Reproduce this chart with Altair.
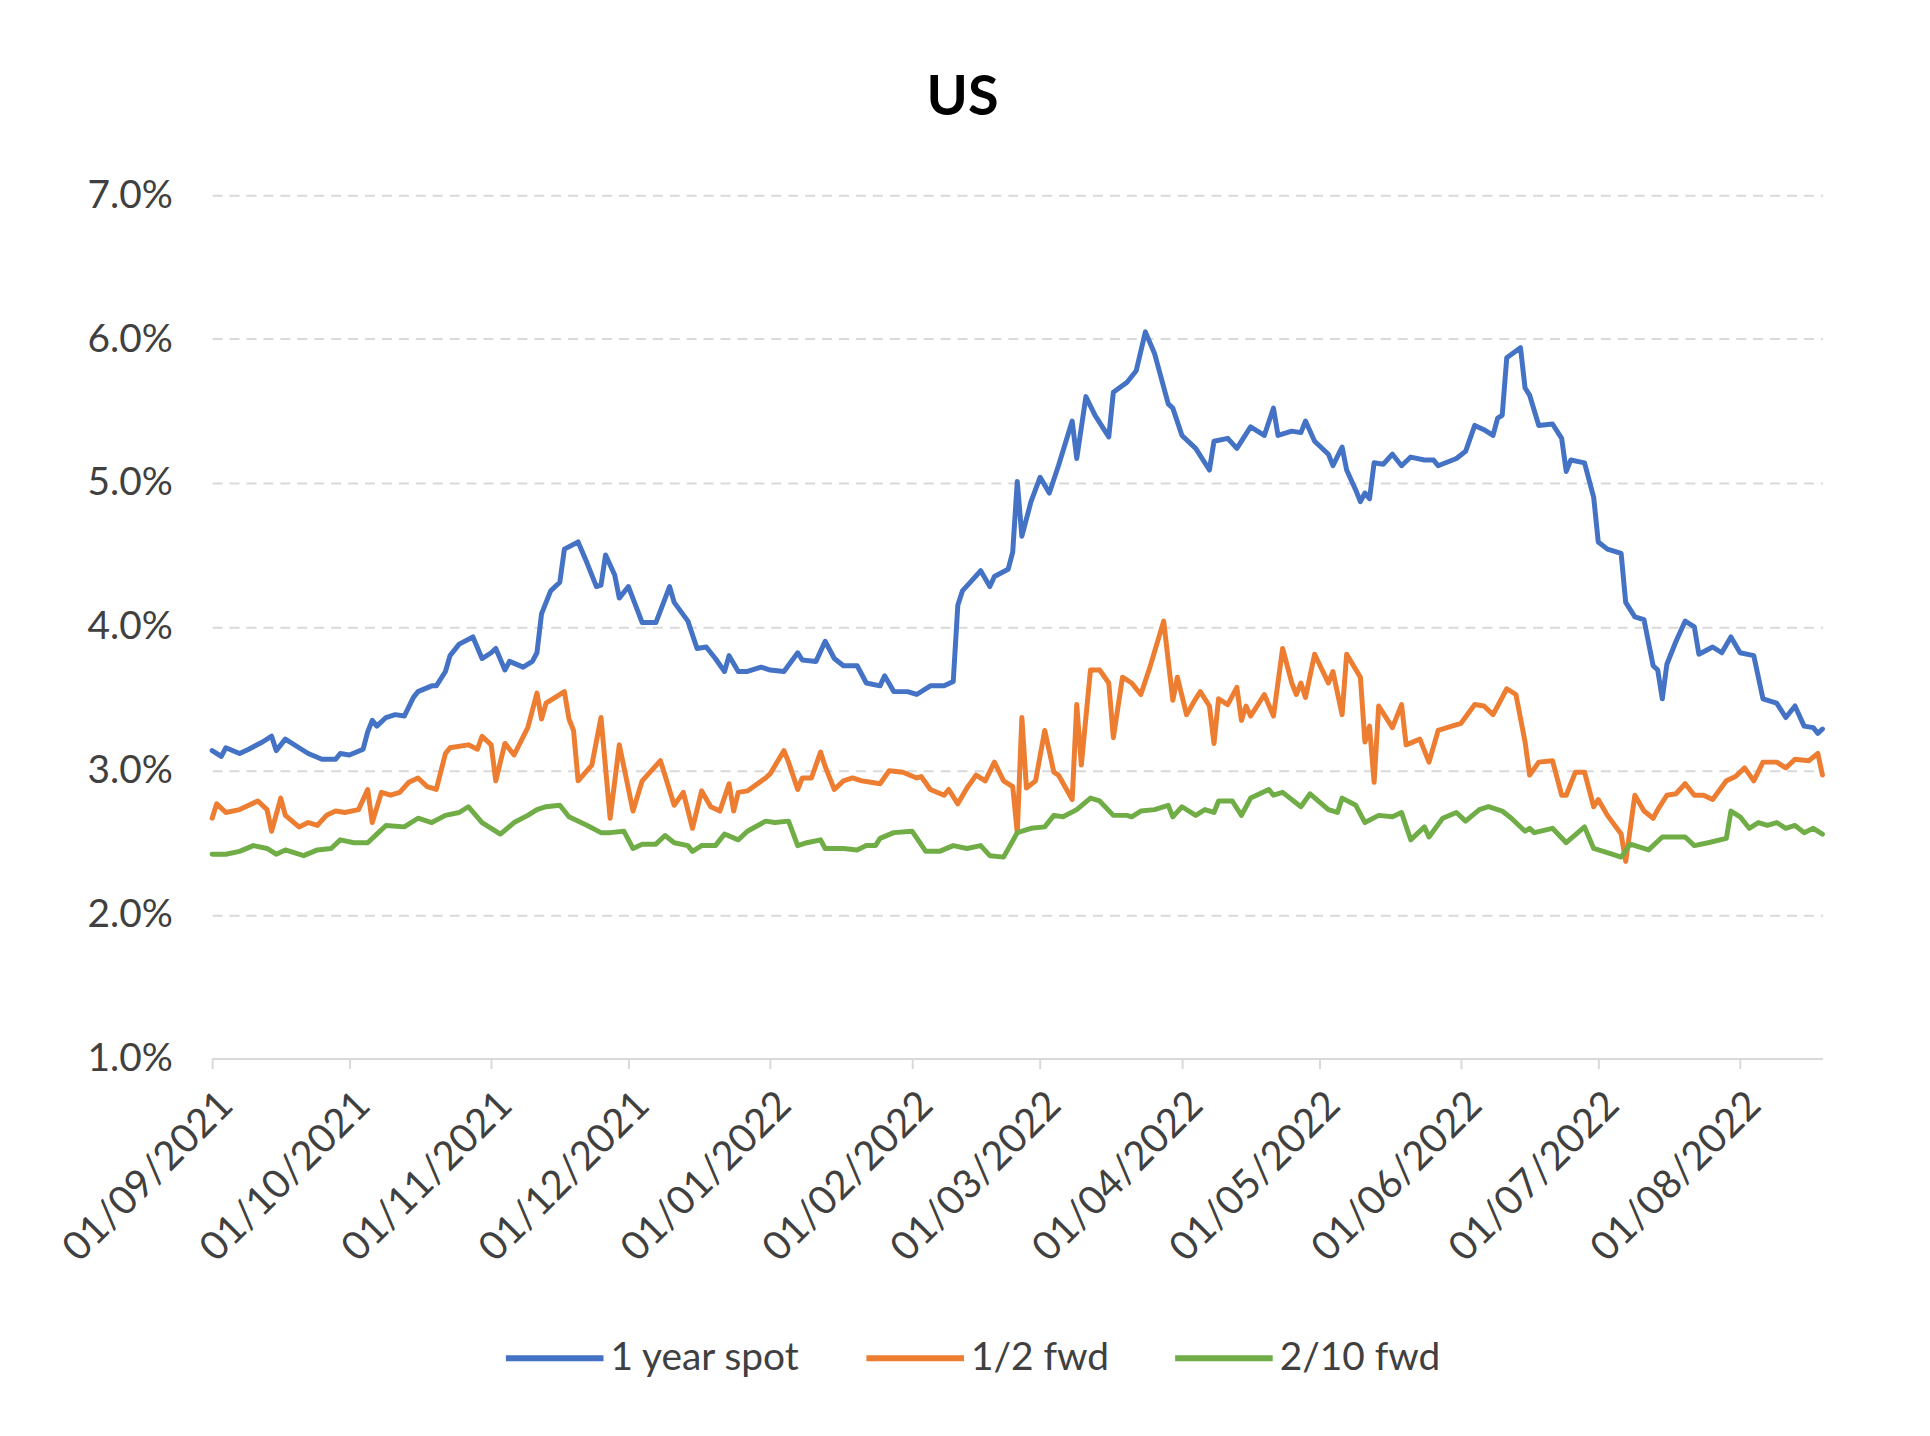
import altair as alt
import pandas as pd

START = "2021-09-01"
END = "2022-08-19"
SERIES = ["1 year spot", "1/2 fwd", "2/10 fwd"]
COLORS = ["#4472C4", "#ED7D31", "#70AD47"]
Y_TICKS = [1, 2, 3, 4, 5, 6, 7]
X_TICKS = ["2021-09-01", "2021-10-01", "2021-11-01", "2021-12-01", "2022-01-01",
           "2022-02-01", "2022-03-01", "2022-04-01", "2022-05-01", "2022-06-01",
           "2022-07-01", "2022-08-01"]

# day offsets from START and values (%)
spot_days = [0, 2, 3, 6, 8, 11, 13, 14, 16, 19, 21, 24, 27, 28, 30, 33, 34, 35, 36, 38,
             40, 42, 44, 45, 48, 49, 51, 52, 54, 57, 59, 61, 62, 64, 65, 68, 70, 71, 72, 74,
             76, 77, 80, 82, 84, 85, 86, 88, 89, 91, 94, 97, 100, 101, 104, 106, 108, 110, 112, 113,
             115, 117, 120, 122, 125, 128, 129, 132, 134, 136, 138, 141, 143, 146, 147, 149, 152, 154, 157, 160,
             162, 163, 164, 166, 168, 170, 171, 174, 175, 176, 177, 179, 181, 183, 185, 188, 189, 191, 193, 196,
             197, 200, 202, 204, 206, 209, 210, 212, 215, 218, 219, 222, 224, 227, 230, 232, 233, 236, 238, 239,
             241, 244, 245, 247, 248, 250, 251, 252, 253, 254, 256, 258, 260, 262, 265, 267, 268, 272, 274, 276,
             278, 280, 281, 282, 283, 286, 287, 288, 290, 293, 295, 296, 297, 300, 302, 303, 305, 308, 309, 311,
             313, 315, 316, 317, 318, 320, 322, 324, 325, 328, 330, 332, 334, 337, 339, 342, 344, 346, 348, 350,
             351, 352]
spot_vals = [3.14, 3.10, 3.16, 3.12, 3.15, 3.20, 3.24, 3.14, 3.22, 3.16, 3.12, 3.08, 3.08, 3.12, 3.11, 3.15, 3.27, 3.35, 3.31, 3.37,
             3.39, 3.38, 3.51, 3.55, 3.59, 3.59, 3.69, 3.80, 3.88, 3.93, 3.78, 3.82, 3.85, 3.70, 3.76, 3.72, 3.76, 3.82, 4.09, 4.25,
             4.31, 4.54, 4.59, 4.44, 4.28, 4.29, 4.50, 4.36, 4.20, 4.28, 4.03, 4.03, 4.28, 4.17, 4.04, 3.85, 3.86, 3.78, 3.69, 3.80,
             3.69, 3.69, 3.72, 3.70, 3.69, 3.82, 3.77, 3.76, 3.90, 3.78, 3.73, 3.73, 3.61, 3.59, 3.66, 3.55, 3.55, 3.53, 3.59, 3.59,
             3.62, 4.15, 4.25, 4.32, 4.39, 4.28, 4.35, 4.40, 4.52, 5.01, 4.63, 4.87, 5.04, 4.93, 5.12, 5.43, 5.17, 5.60, 5.47, 5.32,
             5.63, 5.70, 5.78, 6.05, 5.90, 5.55, 5.52, 5.33, 5.24, 5.09, 5.29, 5.31, 5.24, 5.39, 5.33, 5.52, 5.33, 5.36, 5.35, 5.43,
             5.29, 5.20, 5.12, 5.25, 5.09, 4.95, 4.87, 4.93, 4.89, 5.14, 5.13, 5.20, 5.12, 5.18, 5.16, 5.16, 5.12, 5.17, 5.22, 5.40,
             5.37, 5.33, 5.45, 5.47, 5.87, 5.94, 5.66, 5.61, 5.40, 5.41, 5.31, 5.08, 5.16, 5.14, 4.90, 4.59, 4.54, 4.51, 4.17, 4.07,
             4.05, 3.73, 3.70, 3.50, 3.74, 3.90, 4.04, 4.00, 3.81, 3.86, 3.82, 3.93, 3.82, 3.80, 3.50, 3.47, 3.37, 3.45, 3.31, 3.30,
             3.26, 3.29]

fwd12_days = [0, 1, 3, 6, 8, 10, 12, 13, 15, 16, 19, 21, 23, 25, 27, 29, 32, 34, 35, 37,
              39, 41, 43, 45, 47, 49, 51, 52, 56, 58, 59, 61, 62, 64, 66, 69, 71, 72, 73, 77,
              78, 79, 80, 83, 85, 87, 89, 92, 94, 98, 101, 103, 105, 107, 109, 111, 113, 114, 115, 117,
              121, 122, 125, 126, 128, 129, 131, 133, 134, 136, 138, 140, 142, 144, 146, 148, 151, 154, 155, 157,
              160, 161, 163, 165, 167, 169, 171, 173, 175, 176, 177, 178, 180, 182, 184, 185, 188, 189, 190, 192,
              194, 196, 197, 199, 201, 203, 205, 208, 210, 211, 213, 215, 216, 218, 219, 220, 222, 224, 225, 226,
              227, 230, 232, 234, 236, 237, 238, 239, 241, 244, 245, 247, 248, 251, 252, 253, 254, 255, 258, 260,
              261, 264, 266, 268, 271, 273, 276, 278, 280, 283, 285, 287, 288, 290, 293, 295, 296, 298, 300, 302,
              303, 305, 308, 309, 311, 313, 315, 316, 318, 320, 322, 324, 326, 328, 331, 333, 335, 337, 339, 342,
              344, 346, 349, 351, 352]
fwd12_vals = [2.67, 2.77, 2.71, 2.73, 2.76, 2.79, 2.73, 2.58, 2.81, 2.69, 2.61, 2.64, 2.62, 2.69, 2.72, 2.71, 2.73, 2.87, 2.64, 2.85,
              2.83, 2.85, 2.92, 2.95, 2.89, 2.87, 3.12, 3.16, 3.18, 3.15, 3.24, 3.18, 2.93, 3.19, 3.11, 3.30, 3.54, 3.36, 3.47, 3.55,
              3.36, 3.28, 2.93, 3.04, 3.37, 2.67, 3.18, 2.72, 2.93, 3.07, 2.76, 2.85, 2.60, 2.86, 2.75, 2.72, 2.91, 2.72, 2.85, 2.86,
              2.95, 2.98, 3.14, 3.06, 2.87, 2.95, 2.95, 3.13, 3.03, 2.87, 2.93, 2.95, 2.93, 2.92, 2.91, 3.00, 2.99, 2.95, 2.96, 2.87,
              2.83, 2.87, 2.77, 2.88, 2.97, 2.93, 3.06, 2.93, 2.89, 2.57, 3.37, 2.88, 2.93, 3.28, 2.99, 2.97, 2.80, 3.46, 3.04, 3.70,
              3.70, 3.61, 3.23, 3.65, 3.61, 3.53, 3.72, 4.04, 3.49, 3.65, 3.39, 3.50, 3.55, 3.45, 3.19, 3.50, 3.46, 3.58, 3.35, 3.45,
              3.38, 3.53, 3.38, 3.85, 3.61, 3.53, 3.61, 3.51, 3.81, 3.61, 3.69, 3.39, 3.81, 3.65, 3.20, 3.31, 2.92, 3.45, 3.30, 3.46,
              3.18, 3.22, 3.06, 3.28, 3.31, 3.33, 3.46, 3.45, 3.39, 3.57, 3.53, 3.20, 2.97, 3.06, 3.07, 2.83, 2.83, 2.99, 2.99, 2.75,
              2.80, 2.69, 2.56, 2.37, 2.83, 2.72, 2.67, 2.73, 2.83, 2.84, 2.91, 2.83, 2.83, 2.80, 2.93, 2.96, 3.02, 2.93, 3.06, 3.06,
              3.02, 3.08, 3.07, 3.12, 2.97]

fwd210_days = [0, 3, 6, 9, 12, 14, 16, 20, 23, 26, 28, 31, 34, 36, 38, 42, 45, 48, 51, 54,
               56, 59, 63, 66, 69, 71, 73, 76, 78, 82, 85, 87, 90, 92, 94, 97, 99, 101, 104, 105,
               107, 110, 112, 115, 117, 121, 123, 126, 128, 130, 133, 134, 138, 141, 143, 145, 146, 149, 153, 156,
               159, 162, 165, 168, 170, 173, 176, 179, 182, 184, 186, 189, 192, 194, 197, 200, 201, 203, 206, 209,
               210, 212, 215, 217, 219, 220, 223, 225, 227, 231, 232, 234, 238, 240, 244, 246, 247, 250, 252, 255,
               258, 260, 262, 265, 266, 269, 272, 274, 277, 279, 282, 284, 287, 288, 289, 293, 296, 300, 302, 306,
               308, 310, 314, 317, 320, 322, 324, 327, 331, 332, 334, 336, 338, 340, 342, 344, 346, 348, 350, 352]
fwd210_vals = [2.42, 2.42, 2.44, 2.48, 2.46, 2.42, 2.45, 2.41, 2.45, 2.46, 2.52, 2.50, 2.50, 2.56, 2.62, 2.61, 2.67, 2.64, 2.69, 2.71,
               2.75, 2.64, 2.56, 2.64, 2.69, 2.73, 2.75, 2.76, 2.68, 2.62, 2.57, 2.57, 2.58, 2.46, 2.49, 2.49, 2.55, 2.50, 2.48, 2.44,
               2.48, 2.48, 2.56, 2.52, 2.58, 2.65, 2.64, 2.65, 2.48, 2.50, 2.52, 2.46, 2.46, 2.45, 2.48, 2.48, 2.53, 2.57, 2.58, 2.44,
               2.44, 2.48, 2.46, 2.48, 2.41, 2.40, 2.57, 2.60, 2.61, 2.69, 2.68, 2.73, 2.81, 2.79, 2.69, 2.69, 2.68, 2.72, 2.73, 2.76,
               2.68, 2.75, 2.69, 2.73, 2.71, 2.79, 2.79, 2.69, 2.81, 2.87, 2.83, 2.85, 2.75, 2.84, 2.73, 2.71, 2.81, 2.76, 2.64, 2.69,
               2.68, 2.71, 2.52, 2.61, 2.54, 2.67, 2.71, 2.65, 2.73, 2.75, 2.72, 2.67, 2.58, 2.60, 2.57, 2.60, 2.50, 2.61, 2.46, 2.42,
               2.40, 2.49, 2.45, 2.54, 2.54, 2.54, 2.48, 2.50, 2.53, 2.72, 2.68, 2.60, 2.64, 2.62, 2.64, 2.60, 2.62, 2.57, 2.60, 2.56]

frames = []
for name, days, vals in [(SERIES[0], spot_days, spot_vals),
                         (SERIES[1], fwd12_days, fwd12_vals),
                         (SERIES[2], fwd210_days, fwd210_vals)]:
    d = pd.DataFrame({"day": days, "value": vals})
    d["date"] = (pd.Timestamp(START) + pd.to_timedelta(d["day"], unit="D")).dt.strftime("%Y-%m-%d")
    d["series"] = name
    frames.append(d)
df = pd.concat(frames, ignore_index=True)


def dt(s):
    y, m, dd = (int(p) for p in s.split("-"))
    return alt.DateTime(year=y, month=m, date=dd, utc=True)


FONT = "Lato"
TXT = "#404040"

chart = alt.Chart(df).mark_line(strokeWidth=5, strokeJoin="round", strokeCap="round").encode(
    x=alt.X("date:T",
            scale=alt.Scale(type="utc", domain=[dt(START), dt(END)]),
            axis=alt.Axis(values=[dt(s) for s in X_TICKS],
                          labelExpr="utcFormat(datum.value, '%d/%m/%Y')",
                          labelAngle=-45, title=None, grid=False,
                          domainColor="#D9D9D9", domainWidth=2,
                          tickColor="#D9D9D9", tickWidth=2, tickSize=10,
                          labelFont=FONT, labelFontSize=40, labelColor=TXT, labelPadding=16,
                          labelOverlap=False, labelLimit=500)),
    y=alt.Y("value:Q",
            scale=alt.Scale(domain=[1, 7], nice=False, zero=False),
            axis=alt.Axis(values=Y_TICKS, labelExpr="format(datum.value, '.1f') + '%'",
                          title=None, domain=False, ticks=False,
                          grid=True, gridColor="#D9D9D9", gridDash=[10, 7], gridWidth=2,
                          labelFont=FONT, labelFontSize=39, labelColor=TXT, labelPadding=40)),
    color=alt.Color("series:N",
                    scale=alt.Scale(domain=SERIES, range=COLORS),
                    sort=SERIES,
                    legend=alt.Legend(title=None, orient="none", legendX=292, legendY=1116,
                                      direction="horizontal", symbolType="stroke",
                                      symbolSize=9604, symbolStrokeWidth=6,
                                      labelFont=FONT, labelFontSize=39, labelColor=TXT,
                                      columnPadding=54, labelOffset=4, labelLimit=500, padding=0)),
).properties(
    width=1617,
    height=867,
    title=alt.Title("US", font=FONT, fontSize=56, fontWeight="bold", color="#000000",
                    anchor="middle", dx=-55, offset=50),
    padding={"left": 205, "top": 185, "right": 100, "bottom": 360},
    autosize=alt.AutoSizeParams(type="none"),
    background="white",
).configure_view(stroke=None)

chart.save("out.html", embed_options={"renderer": "svg", "actions": False})
